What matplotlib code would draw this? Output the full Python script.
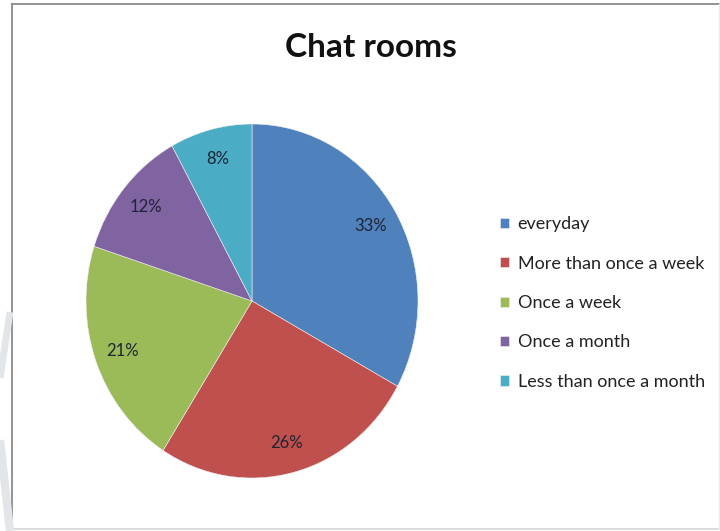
import matplotlib.pyplot as plt
from matplotlib.lines import Line2D

categories = ['everyday', 'More than once a week', 'Once a week',
              'Once a month', 'Less than once a month']
shares = [33, 26, 21, 12, 8]
colors = ['#4F81BD', '#C0504D', '#9BBB59', '#8064A2', '#4BACC6']

W, H = 720, 531
fig = plt.figure(figsize=(W / 100, H / 100), dpi=100)
fig.patch.set_facecolor('white')


def px(x, y):
    return x / W, 1 - y / H


# pie slightly taller than wide, like the stretched original
cx, cy, rx, ry = 252, 301, 166, 177
ax = fig.add_axes([(cx - rx) / W, 1 - (cy + ry) / H, 2 * rx / W, 2 * ry / H])
wedges, texts, autotexts = ax.pie(
    shares, colors=colors, startangle=90, counterclock=False,
    autopct=lambda p: f'{p:.0f}%', pctdistance=0.83,
    wedgeprops=dict(edgecolor='#f0f0f0', linewidth=0.4),
    textprops=dict(family='Lato', fontsize=12, color='#1e2433'))
ax.set_aspect('auto')
ax.set_xlim(-1, 1)
ax.set_ylim(-1, 1)

fig.text(*px(371, 57), 'Chat rooms', ha='center', va='baseline',
         family='Lato', fontweight='bold', fontsize=24, color='#111111')

fig.legend(wedges, categories, loc='center left',
           bbox_to_anchor=px(500, 303), frameon=False,
           prop=dict(family='Lato', size=13), labelcolor='#222222',
           handlelength=0.48, handleheight=0.48, handletextpad=0.5,
           labelspacing=1.3, borderpad=0, borderaxespad=0)

# chart-area frame
def seg(p, q, **kw):
    (x0, y0), (x1, y1) = px(*p), px(*q)
    fig.add_artist(Line2D([x0, x1], [y0, y1], **kw))


seg((11.5, 3.5), (11.5, 529), color='#8a8a8a', lw=1.3)
seg((11.5, 3.5), (718.5, 3.5), color='#8a8a8a', lw=1.3)
seg((11.5, 529), (718.5, 529), color='#d4d4d4', lw=1.2)
seg((718.5, 3.5), (718.5, 529), color='#ececec', lw=1.0)

# faint shapes left of the frame
seg((0, 378), (10, 312), color='#e2e6e9', lw=5, solid_capstyle='butt')
seg((0, 440), (10, 531), color='#e2e6e9', lw=6, solid_capstyle='butt')

fig.savefig('out.png', dpi=100)
